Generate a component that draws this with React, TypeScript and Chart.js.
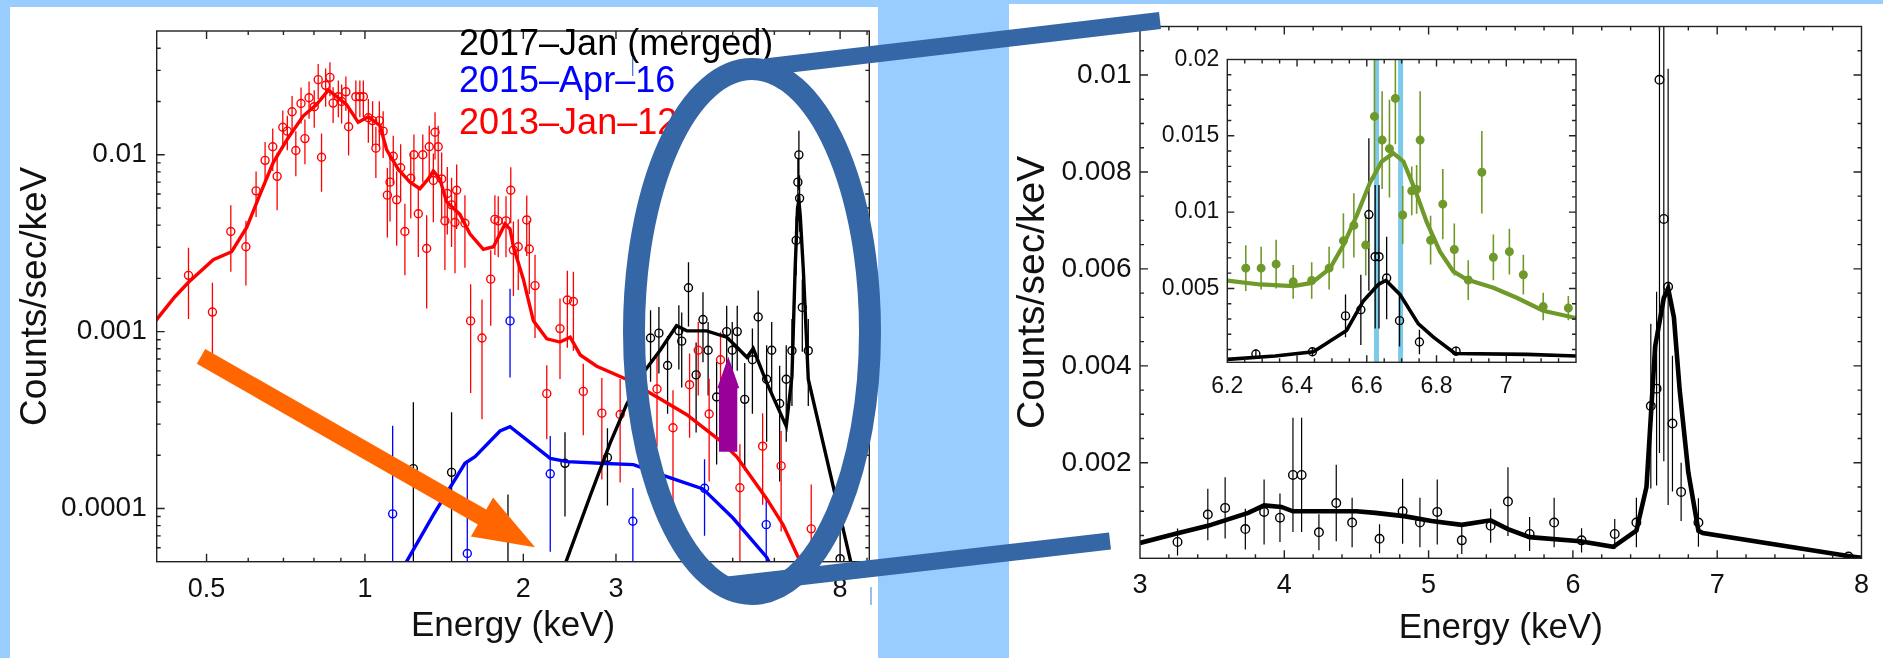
import React, { useEffect, useRef } from "react";
import { Chart, registerables } from "chart.js";

Chart.register(...registerables);

const FONT = "'Liberation Sans', Arial, Helvetica, sans-serif";

// ---------------- Left panel (log-log spectra) ----------------
const RED_E = [
  0.462, 0.513, 0.556, 0.594, 0.621, 0.646, 0.668, 0.681, 0.698, 0.712,
  0.727, 0.739, 0.756, 0.769, 0.783, 0.801, 0.815, 0.827, 0.842, 0.858,
  0.870, 0.890, 0.903, 0.920, 0.931, 0.961, 0.978, 0.993, 1.015, 1.034,
  1.049, 1.065, 1.083, 1.103, 1.116, 1.132, 1.149, 1.169, 1.191, 1.222,
  1.239, 1.263, 1.288, 1.310, 1.325, 1.349, 1.359, 1.378, 1.399, 1.419,
  1.434, 1.461, 1.483, 1.494, 1.549, 1.588, 1.669, 1.734, 1.766, 1.792,
  1.854, 1.893, 1.915, 1.956, 2.03, 2.053, 2.105, 2.216, 2.348, 2.425,
  2.49, 2.60, 2.82, 3.055, 3.59, 3.85, 4.14, 4.30, 4.51, 4.74,
  5.16, 5.70, 6.18, 7.05,
];
const RED_C = [
  0.00208, 0.00129, 0.00368, 0.00302, 0.00625, 0.0093, 0.0111, 0.00755, 0.0143, 0.0136,
  0.0175, 0.01057, 0.0195, 0.01234, 0.021, 0.0187, 0.0266, 0.00968, 0.0247, 0.0274,
  0.0196, 0.0213, 0.020, 0.0227, 0.0144, 0.0213, 0.0213, 0.0213, 0.0162, 0.0156,
  0.0109, 0.0156, 0.0136, 0.00591, 0.0070, 0.0098, 0.00556, 0.00845, 0.00368, 0.00736,
  0.0100, 0.00464, 0.0100, 0.00295, 0.0111, 0.00715, 0.0134, 0.0111, 0.0073, 0.00423,
  0.00604, 0.00521, 0.00414, 0.0063, 0.0041, 0.00115, 0.00092, 0.00198, 0.00431, 0.00423,
  0.00423, 0.0063, 0.00289, 0.00302, 0.00428, 0.00293, 0.00182, 0.000446, 0.00104, 0.00151,
  0.00148, 0.000459, 0.000346, 0.00034, 0.000474, 0.000286, 0.000501, 0.000785, 0.000342, 0.000693,
  0.000131, 0.000225, 0.000174, 0.0000767,
];
const RED_ERR = [
  0.0009, 0.0006, 0.0015, 0.0012, 0.0018, 0.0025, 0.003, 0.0027, 0.0035, 0.003,
  0.004, 0.003, 0.0045, 0.0035, 0.005, 0.0045, 0.006, 0.0035, 0.006, 0.006,
  0.0045, 0.005, 0.005, 0.005, 0.0045, 0.005, 0.005, 0.005, 0.0045, 0.0045,
  0.0035, 0.0045, 0.004, 0.0025, 0.0028, 0.003, 0.0025, 0.003, 0.0016, 0.003,
  0.003, 0.002, 0.003, 0.0016, 0.0035, 0.003, 0.004, 0.0035, 0.003, 0.002,
  0.0025, 0.0022, 0.002, 0.0025, 0.0018, 0.0007, 0.0006, 0.0009, 0.0016, 0.0016,
  0.0016, 0.0022, 0.0013, 0.0013, 0.0016, 0.0013, 0.0009, 0.0002, 0.0005, 0.0007,
  0.0007, 0.0002, 0.0002, 0.0002, 0.00025, 0.00018, 0.00025, 0.00035, 0.0002, 0.0003,
  0.0001, 0.00012, 0.0001, 0.00006,
];
const RED_MODEL_E = [
  0.40, 0.435, 0.462, 0.515, 0.558, 0.596, 0.631, 0.669, 0.710, 0.763,
  0.809, 0.852, 0.884, 0.923, 0.971, 1.015, 1.068, 1.100, 1.157, 1.218,
  1.272, 1.319, 1.349, 1.388, 1.429, 1.515, 1.583, 1.679, 1.755, 1.806,
  1.846, 1.887, 1.915, 2.0, 2.09, 2.216, 2.348, 2.455, 2.566, 2.758,
  3.14, 3.59, 4.09, 4.73, 5.09, 5.80, 6.23, 6.72, 6.9,
];
const RED_MODEL_C = [
  0.00115, 0.00157, 0.00190, 0.00255, 0.00283, 0.00388, 0.00591, 0.00901, 0.0121, 0.01656,
  0.0192, 0.0232, 0.0213, 0.0192, 0.01525, 0.0164, 0.0146, 0.01065, 0.00827, 0.0070,
  0.00643, 0.0073, 0.00811, 0.0073, 0.00543, 0.00460, 0.00357, 0.00292, 0.00302, 0.00357,
  0.00406, 0.00380, 0.00302, 0.00198, 0.00115, 0.00091, 0.000873, 0.00093, 0.000738, 0.000637,
  0.000538, 0.000427, 0.000339, 0.000242, 0.000196, 0.0001136, 0.0000811, 0.00005, 0.000042,
];

const BLUE_E = [1.129, 1.565, 1.887, 2.25, 3.23, 4.42, 5.79];
const BLUE_C = [0.0000932, 0.0000556, 0.00115, 0.000157, 0.0000847, 0.00013, 0.000081];
const BLUE_ERR = [0.0002, 0.000125, 0.0006, 0.0001, 0.000046, 0.00006, 0.000035];
const BLUE_MODEL_E = [1.19, 1.349, 1.549, 1.619, 1.806, 1.887, 2.25, 2.42, 2.80, 3.24, 3.64, 4.39, 5.01, 5.80, 5.9];
const BLUE_MODEL_C = [
  0.000048, 0.000092, 0.00018, 0.000196, 0.000274, 0.00029, 0.000192, 0.000184, 0.00018,
  0.000177, 0.000156, 0.000129, 0.000088, 0.000053, 0.000048,
];

const BLACK_E = [
  1.236, 1.461, 1.87, 2.40, 2.89, 3.49, 3.62, 3.76, 3.95, 4.0,
  4.12, 4.26, 4.39, 4.49, 4.66, 4.87, 4.99, 5.1, 5.27, 5.45,
  5.59, 5.80, 5.93, 6.14, 6.32, 6.48, 6.60, 6.65, 6.68, 6.70,
  6.78, 6.96, 8.0,
];
const BLACK_C = [
  0.000168, 0.00016, 0.00004, 0.00018, 0.000194, 0.00092, 0.00098, 0.000643, 0.00101, 0.000883,
  0.00177, 0.000569, 0.00117, 0.000785, 0.000427, 0.001, 0.000785, 0.001, 0.000414, 0.000693,
  0.00121, 0.000538, 0.000785, 0.000392, 0.000538, 0.00078, 0.00328, 0.0070, 0.00999, 0.00567,
  0.00137, 0.00078, 0.000052,
];
const BLACK_ERR = [
  0.00023, 0.00019, 0.00008, 0.00009, 0.00009, 0.0004, 0.0004, 0.0003, 0.0004, 0.0004,
  0.0007, 0.0003, 0.0005, 0.00035, 0.00025, 0.0004, 0.00035, 0.0004, 0.00025, 0.00035,
  0.0005, 0.0003, 0.00035, 0.00025, 0.0003, 0.0004, 0.0012, 0.0025, 0.0037, 0.002,
  0.0006, 0.0004, 0.00004,
];
const BLACK_MODEL_E = [
  2.38, 2.68, 2.92, 3.14, 3.38, 3.64, 3.91, 4.09, 4.46, 4.87, 5.09, 5.32,
  5.47, 5.80, 6.32, 6.48, 6.57, 6.64, 6.68, 6.72, 6.81, 6.96, 7.63, 8.45,
];
const BLACK_MODEL_C = [
  0.000045, 0.000118, 0.000232, 0.000385, 0.000585, 0.000785, 0.00108, 0.00101, 0.00101, 0.00093, 0.000818, 0.000716,
  0.000802, 0.000515, 0.000292, 0.00056, 0.00225, 0.0050, 0.0055, 0.0045, 0.00225, 0.000538, 0.000166, 0.000045,
];

const LEFT_X_TICKS = [0.5, 1, 2, 3, 8];
const LEFT_Y_TICKS = [0.0001, 0.001, 0.01];
const LEGEND_LINES = ["2017\u2013Jan (merged)", "2015\u2013Apr\u201316", "2013\u2013Jan\u201312"];
const LEGEND_COLORS = ["#000000", "#0000ff", "#ff0000"];

// ---------------- Right panel (linear, 2017 merged) ----------------
const R_E = [
  3.26, 3.47, 3.59, 3.73, 3.86, 3.97, 4.06, 4.12, 4.24, 4.36,
  4.47, 4.66, 4.82, 4.94, 5.06, 5.23, 5.43, 5.55, 5.70, 5.87,
  6.06, 6.29, 6.44, 6.54, 6.58, 6.60, 6.63, 6.66, 6.69, 6.75,
  6.87, 7.91,
];
const R_C = [
  0.000367, 0.000933, 0.00107, 0.000633, 0.000987, 0.000867, 0.00175, 0.00175, 0.000567, 0.00117,
  0.000767, 0.000433, 0.001, 0.000767, 0.000987, 0.0004, 0.0007, 0.0012, 0.000533, 0.000767,
  0.0004, 0.000533, 0.000767, 0.00317, 0.00353, 0.0099, 0.00703, 0.00563, 0.00281, 0.0014,
  0.000767, 0.0000667,
];
const R_ERR = [
  0.00028, 0.00053, 0.00063, 0.00042, 0.00067, 0.0005, 0.00118, 0.00118, 0.00037, 0.00079,
  0.00051, 0.0003, 0.00067, 0.00051, 0.00067, 0.00028, 0.00035, 0.00071, 0.00035, 0.00051,
  0.00025, 0.00031, 0.00051, 0.0017, 0.002, 0.0077, 0.005, 0.0045, 0.0014, 0.0006,
  0.0005, 0.00003,
];
const R_MODEL_E = [
  3.0, 3.26, 3.47, 3.75, 3.86, 3.98, 4.06, 4.50, 4.63, 4.83, 5.02, 5.23, 5.43, 5.55, 5.70,
  6.05, 6.28, 6.44, 6.51, 6.57, 6.63, 6.66, 6.70, 6.74, 6.80, 6.87, 6.90, 7.93, 8.0,
];
const R_MODEL_C = [
  0.000347, 0.000547, 0.0007, 0.000967, 0.00112, 0.00109, 0.001, 0.001, 0.000967, 0.0009, 0.0008, 0.00072, 0.000813, 0.000633, 0.000467,
  0.00038, 0.000267, 0.0006, 0.0015, 0.0044, 0.0054, 0.0056, 0.0050, 0.0035, 0.0018, 0.0006, 0.00055, 0.0000667, 0.00004,
];
const R_X_TICKS = [3, 4, 5, 6, 7, 8];
const R_Y_TICKS = [0.002, 0.004, 0.006, 0.008, 0.01];

// ---------------- Inset (Fe K line zoom) ----------------
const G_E = [
  6.253, 6.297, 6.34, 6.389, 6.442, 6.492, 6.533, 6.563, 6.597, 6.622,
  6.644, 6.665, 6.682, 6.703, 6.729, 6.743, 6.753, 6.783, 6.818, 6.851,
  6.891, 6.930, 6.963, 7.009, 7.049, 7.106, 7.178,
];
const G_C = [
  0.00633, 0.00633, 0.00659, 0.00543, 0.00552, 0.00633, 0.00812, 0.00913, 0.00784, 0.01627,
  0.01472, 0.01416, 0.01745, 0.00981, 0.01139, 0.01149, 0.01472, 0.00816, 0.01052, 0.00755,
  0.00555, 0.01261, 0.00704, 0.00741, 0.0059, 0.00381, 0.00371,
];
const G_ERR = [
  0.0015, 0.0014, 0.0016, 0.0011, 0.0012, 0.0014, 0.0018, 0.0021, 0.002, 0.0041,
  0.0032, 0.0032, 0.003, 0.0019, 0.0016, 0.0016, 0.0032, 0.0016, 0.0023, 0.0017,
  0.0013, 0.0027, 0.0015, 0.0015, 0.0013, 0.0009, 0.0008,
];
const G_MODEL_E = [6.2, 6.294, 6.389, 6.442, 6.495, 6.533, 6.571, 6.609, 6.643, 6.676, 6.705, 6.738, 6.772, 6.810, 6.848, 6.887, 6.963, 7.030, 7.106, 7.2];
const G_MODEL_C = [0.00551, 0.00526, 0.00515, 0.00536, 0.00633, 0.00784, 0.00977, 0.01192, 0.01332, 0.01386, 0.01332, 0.01149, 0.00934, 0.00741, 0.00612, 0.00558, 0.00504, 0.00439, 0.00354, 0.00306];

const K_E = [6.282, 6.444, 6.539, 6.583, 6.606, 6.624, 6.635, 6.657, 6.694, 6.751, 6.856];
const K_C = [0.0007, 0.00085, 0.0032, 0.0036, 0.00984, 0.00708, 0.00708, 0.00568, 0.00289, 0.00149, 0.00089];
const K_ERR = [0.0003, 0.0003, 0.0014, 0.0023, 0.005, 0.0047, 0.0047, 0.0027, 0.0017, 0.0008, 0.0003];
const K_MODEL_E = [6.2, 6.337, 6.447, 6.542, 6.59, 6.633, 6.655, 6.695, 6.748, 6.791, 6.853, 7.059, 7.2];
const K_MODEL_C = [0.00035, 0.00057, 0.00085, 0.00225, 0.00418, 0.00526, 0.00552, 0.00461, 0.00268, 0.00181, 0.00074, 0.00068, 0.00057];

const LINE_ENERGIES = [6.628, 6.697];
const INSET_X_TICKS = [6.2, 6.4, 6.6, 6.8, 7.0];
const INSET_Y_TICKS = [0.005, 0.01, 0.015, 0.02];

// ---------------- helpers ----------------
function pts(E: number[], C: number[]) {
  return E.map((e, i) => ({ x: e, y: C[i] }));
}
function range(a: number, b: number, step: number) {
  const out: number[] = [];
  for (let v = a; v <= b + step * 1e-6; v += step) out.push(Math.round(v / step) * step);
  return out;
}
function logMinor(lo: number, hi: number) {
  const out: number[] = [];
  for (let p = -6; p <= 2; p++) for (let k = 1; k <= 9; k++) {
    const v = k * Math.pow(10, p);
    if (v >= lo && v <= hi) out.push(v);
  }
  return out;
}

function modelSet(E: number[], C: number[], color: string, width: number) {
  return { data: pts(E, C), showLine: true, borderColor: color, borderWidth: width, pointRadius: 0, tension: 0, fill: false };
}
function dataSet(E: number[], C: number[], err: number[], color: string, r: number, filled = false, errWidth = 1.3) {
  return {
    data: pts(E, C), errs: err, errColor: color, errWidth, showLine: false,
    pointRadius: r, pointStyle: "circle", borderColor: color, pointBorderWidth: 1.4,
    backgroundColor: filled ? color : "rgba(0,0,0,0)",
  };
}

const errPlugin = {
  id: "errbars",
  beforeDatasetsDraw(chart: any) {
    const { ctx, chartArea: a, scales } = chart;
    const ys = scales.y, xs = scales.x;
    ctx.save();
    ctx.beginPath();
    ctx.rect(a.left, a.top, a.right - a.left, a.bottom - a.top);
    ctx.clip();
    chart.data.datasets.forEach((ds: any) => {
      if (!ds.errs) return;
      ctx.strokeStyle = ds.errColor;
      ctx.lineWidth = ds.errWidth;
      ctx.beginPath();
      ds.data.forEach((p: any, i: number) => {
        const e = ds.errs[i];
        const px = xs.getPixelForValue(p.x);
        const lo = p.y - e, hi = p.y + e;
        const yLo = lo > 0 || ys.type !== "logarithmic" ? ys.getPixelForValue(lo) : a.bottom + 20;
        const yHi = ys.getPixelForValue(hi);
        ctx.moveTo(px, yLo);
        ctx.lineTo(px, yHi);
      });
      ctx.stroke();
    });
    ctx.restore();
  },
};

const bandPlugin = {
  id: "bands",
  beforeDatasetsDraw(chart: any, _args: any, opts: any) {
    if (!opts || !opts.values) return;
    const { ctx, chartArea: a, scales } = chart;
    ctx.save();
    ctx.fillStyle = opts.color;
    opts.values.forEach((v: number) => {
      const px = scales.x.getPixelForValue(v);
      ctx.fillRect(px - opts.width / 2, a.top, opts.width, a.bottom - a.top);
    });
    ctx.restore();
  },
};

const framePlugin = {
  id: "frame",
  afterDraw(chart: any, _args: any, opts: any) {
    const { ctx, chartArea: a, scales } = chart;
    const xs = scales.x, ys = scales.y;
    ctx.save();
    ctx.strokeStyle = "#222";
    ctx.lineWidth = 1.4;
    ctx.strokeRect(a.left, a.top, a.right - a.left, a.bottom - a.top);
    ctx.beginPath();
    const drawX = (vals: number[], len: number) => vals.forEach((v) => {
      const px = xs.getPixelForValue(v);
      if (px < a.left + 1 || px > a.right - 1) return;
      ctx.moveTo(px, a.bottom); ctx.lineTo(px, a.bottom - len);
      ctx.moveTo(px, a.top); ctx.lineTo(px, a.top + len);
    });
    const drawY = (vals: number[], len: number) => vals.forEach((v) => {
      const py = ys.getPixelForValue(v);
      if (py < a.top + 1 || py > a.bottom - 1) return;
      ctx.moveTo(a.left, py); ctx.lineTo(a.left + len, py);
      ctx.moveTo(a.right, py); ctx.lineTo(a.right - len, py);
    });
    drawX(opts.xMajor, opts.major); drawX(opts.xMinor, opts.minor);
    drawY(opts.yMajor, opts.major); drawY(opts.yMinor, opts.minor);
    ctx.stroke();
    ctx.restore();
  },
};

function axis(type: string, min: number, max: number, tickVals: number[], fmt: (v: number) => string, o: any) {
  return {
    type, min, max,
    afterBuildTicks: (s: any) => { s.ticks = tickVals.map((v) => ({ value: v })); },
    afterFit: (s: any) => { if (o.width !== undefined) s.width = o.width; if (o.height !== undefined) s.height = o.height; },
    grid: { display: false, drawTicks: false },
    border: { display: false },
    ticks: {
      autoSkip: false, maxRotation: 0, minRotation: 0, padding: o.pad, color: "#111",
      font: { family: FONT, size: o.tickSize, lineHeight: 1 },
      callback: (v: any) => fmt(Number(v)),
    },
    title: o.title
      ? { display: true, text: o.title, color: "#111", font: { family: FONT, size: o.titleSize, lineHeight: 1 }, padding: o.titlePad }
      : { display: false },
  };
}

const baseOptions = (padding: any) => ({
  responsive: false, animation: false, events: [],
  layout: { padding },
  plugins: { legend: { display: false }, tooltip: { enabled: false } } as any,
});

function leftConfig(): any {
  const opts: any = baseOptions({ left: 0, top: 7, right: 8.7, bottom: 0 });
  opts.plugins.frame = {
    xMajor: LEFT_X_TICKS, xMinor: logMinor(0.41, 9).filter((v) => !LEFT_X_TICKS.includes(v)),
    yMajor: LEFT_Y_TICKS, yMinor: logMinor(5e-5, 0.05).filter((v) => !LEFT_Y_TICKS.some((t) => Math.abs(t - v) < t * 1e-6)),
    major: 8, minor: 4,
  };
  opts.scales = {
    x: axis("logarithmic", 0.402, 9.09, LEFT_X_TICKS, (v) => String(v), {
      height: 96.3, pad: 14, tickSize: 27, title: "Energy (keV)", titleSize: 35, titlePad: { top: 0, bottom: 14.5 },
    }),
    y: axis("logarithmic", 0.00005, 0.0501, LEFT_Y_TICKS, (v) => String(v), {
      width: 146.7, pad: 10, tickSize: 28, title: "Counts/sec/keV", titleSize: 37, titlePad: { top: 7, bottom: 0 },
    }),
  };
  return {
    type: "scatter",
    data: {
      datasets: [
        modelSet(BLACK_MODEL_E, BLACK_MODEL_C, "#000000", 3.4),
        modelSet(BLUE_MODEL_E, BLUE_MODEL_C, "#0000ff", 3.4),
        modelSet(RED_MODEL_E, RED_MODEL_C, "#ff0000", 3.4),
        dataSet(BLACK_E, BLACK_C, BLACK_ERR, "#000000", 4),
        dataSet(BLUE_E, BLUE_C, BLUE_ERR, "#0000ff", 4),
        dataSet(RED_E, RED_C, RED_ERR, "#ff0000", 4),
      ],
    },
    options: opts,
    plugins: [errPlugin, framePlugin],
  };
}

function rightConfig(): any {
  const opts: any = baseOptions({ left: 0, top: 5.3, right: 21, bottom: 0 });
  opts.plugins.frame = {
    xMajor: R_X_TICKS, xMinor: range(3, 8, 0.2).filter((v) => Math.abs(v - Math.round(v)) > 1e-6),
    yMajor: R_Y_TICKS, yMinor: range(0.0005, 0.0105, 0.0005).filter((v) => Math.abs(v / 0.002 - Math.round(v / 0.002)) > 1e-6),
    major: 8, minor: 4,
  };
  opts.scales = {
    x: axis("linear", 3, 8, R_X_TICKS, (v) => String(v), {
      height: 99.7, pad: 14, tickSize: 27, title: "Energy (keV)", titleSize: 35, titlePad: { top: 0, bottom: 12.5 },
    }),
    y: axis("linear", 0.00003, 0.011, R_Y_TICKS, (v) => String(Number(v.toFixed(4))), {
      width: 131, pad: 8.5, tickSize: 28, title: "Counts/sec/keV", titleSize: 39, titlePad: { top: 5, bottom: 0 },
    }),
  };
  return {
    type: "scatter",
    data: {
      datasets: [
        modelSet(R_MODEL_E, R_MODEL_C, "#000000", 4.6),
        dataSet(R_E, R_C, R_ERR, "#000000", 4.3, false, 1.2),
      ],
    },
    options: opts,
    plugins: [errPlugin, framePlugin],
  };
}

function insetConfig(): any {
  const opts: any = baseOptions({ left: 0, top: 15.7, right: 24, bottom: 0 });
  opts.plugins.frame = {
    xMajor: INSET_X_TICKS, xMinor: range(6.25, 7.15, 0.05).filter((v) => Math.abs(v / 0.2 - Math.round(v / 0.2)) > 1e-6),
    yMajor: INSET_Y_TICKS, yMinor: range(0.001, 0.019, 0.001).filter((v) => Math.abs(v / 0.005 - Math.round(v / 0.005)) > 1e-6),
    major: 7, minor: 4,
  };
  opts.plugins.bands = { values: LINE_ENERGIES, color: "#7ccaea", width: 5 };
  opts.scales = {
    x: axis("linear", 6.2, 7.2, INSET_X_TICKS, (v) => String(Number(v.toFixed(1))), { height: 37.7, pad: 13, tickSize: 23 }),
    y: axis("linear", 0.00016, 0.02, INSET_Y_TICKS, (v) => String(Number(v.toFixed(3))), { width: 77.3, pad: 8, tickSize: 23 }),
  };
  return {
    type: "scatter",
    data: {
      datasets: [
        modelSet(K_MODEL_E, K_MODEL_C, "#000000", 3.6),
        dataSet(K_E, K_C, K_ERR, "#000000", 4, false, 1.3),
        modelSet(G_MODEL_E, G_MODEL_C, "#6f9a2a", 4.2),
        dataSet(G_E, G_C, G_ERR, "#6f9a2a", 3.8, true, 1.6),
      ],
    },
    options: opts,
    plugins: [bandPlugin, errPlugin, framePlugin],
  };
}

const ANNOT_BLUE = "#3566a5";

export default function App() {
  const leftRef = useRef<HTMLCanvasElement>(null);
  const rightRef = useRef<HTMLCanvasElement>(null);
  const insetRef = useRef<HTMLCanvasElement>(null);

  useEffect(() => {
    document.body.style.margin = "0";
    const charts = [
      new Chart(leftRef.current as HTMLCanvasElement, leftConfig()),
      new Chart(rightRef.current as HTMLCanvasElement, rightConfig()),
      new Chart(insetRef.current as HTMLCanvasElement, insetConfig()),
    ];
    return () => charts.forEach((c) => c.destroy());
  }, []);

  const abs = (l: number, t: number, w: number, h: number): React.CSSProperties => ({
    position: "absolute", left: l, top: t, width: w, height: h,
  });

  return (
    <div style={{ ...abs(0, 0, 1883, 658), background: "#99ccff", overflow: "hidden", fontFamily: FONT }}>
      <div style={{ ...abs(10, 7, 868, 651), background: "#ffffff" }} />
      <div style={{ ...abs(1009, 4, 874, 654), background: "#ffffff" }} />
      <canvas ref={leftRef} width={868} height={651} style={abs(10, 7, 868, 651)} />
      <canvas ref={rightRef} width={874} height={654} style={abs(1009, 4, 874, 654)} />
      <canvas ref={insetRef} width={450} height={360} style={abs(1150, 40, 450, 360)} />
      {LEGEND_LINES.map((t, i) => (
        <div
          key={t}
          style={{
            position: "absolute", left: 459, top: [24.5, 62.2, 103.5][i], fontSize: 36, lineHeight: "36px",
            whiteSpace: "nowrap", color: LEGEND_COLORS[i], fontFamily: FONT,
          }}
        >
          {t}
        </div>
      ))}
      <svg width={1883} height={658} style={{ position: "absolute", left: 0, top: 0, pointerEvents: "none" }}>
        <line x1={632.7} y1={58} x2={632.7} y2={76} stroke="#3b6fd6" strokeWidth={1.2} />
        <line x1={871} y1={587} x2={871} y2={605} stroke="#5b8fe0" strokeWidth={1.2} />
        <polygon
          points="719,451.7 719,388.3 717.3,388.3 728.3,356.7 739.3,388.3 737.3,388.3 737.3,451.7"
          fill="#990099"
        />
        <polygon
          points="205.2,348.9 486.2,509.6 493.1,497.6 535,547.3 470.9,536.4 477.8,524.4 196.8,363.7"
          fill="#ff6600"
        />
        <line x1={765} y1={67} x2={1160} y2={20.5} stroke={ANNOT_BLUE} strokeWidth={17} />
        <line x1={728} y1={585} x2={1110} y2={541} stroke={ANNOT_BLUE} strokeWidth={17} />
        <ellipse cx={752} cy={331.5} rx={118} ry={262.5} fill="none" stroke={ANNOT_BLUE} strokeWidth={22} />
      </svg>
    </div>
  );
}
